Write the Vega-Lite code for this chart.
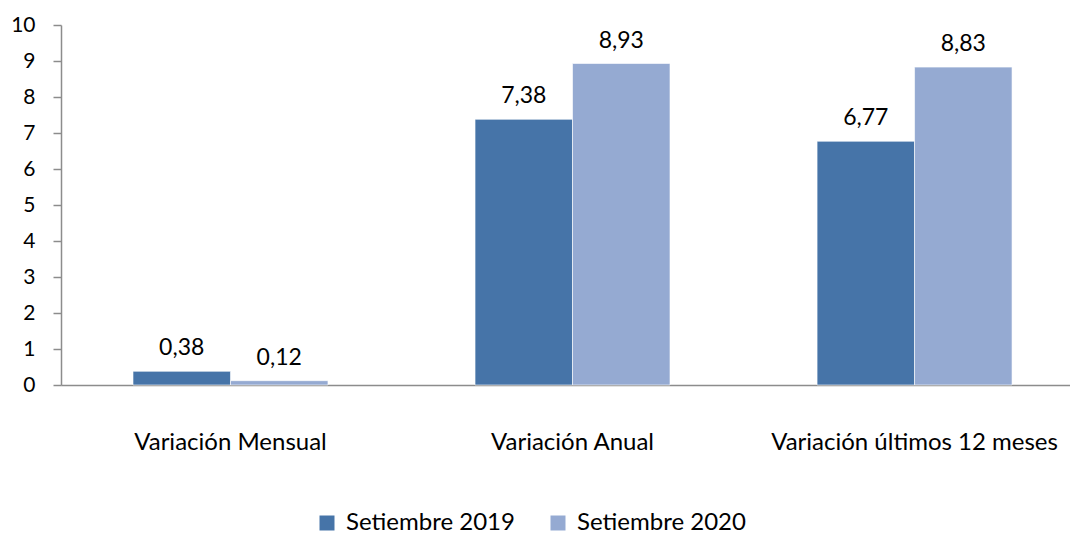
{
  "$schema": "https://vega.github.io/schema/vega-lite/v6.json",
  "width": 1009,
  "height": 360,
  "autosize": "none",
  "padding": {"left": 61, "top": 25, "right": 0, "bottom": 149},
  "background": "white",
  "config": {
    "view": {"stroke": null},
    "locale": {"number": {"decimal": ",", "thousands": ".", "grouping": [3], "currency": ["", " €"]}}
  },
  "data": {
    "values": [
      {"cat": "Variación Mensual", "serie": "Setiembre 2019", "valor": 0.38},
      {"cat": "Variación Mensual", "serie": "Setiembre 2020", "valor": 0.12},
      {"cat": "Variación  Anual", "serie": "Setiembre 2019", "valor": 7.38},
      {"cat": "Variación  Anual", "serie": "Setiembre 2020", "valor": 8.93},
      {"cat": "Variación últimos 12 meses", "serie": "Setiembre 2019", "valor": 6.77},
      {"cat": "Variación últimos 12 meses", "serie": "Setiembre 2020", "valor": 8.83}
    ]
  },
  "encoding": {
    "x": {
      "field": "cat",
      "type": "nominal",
      "sort": ["Variación Mensual", "Variación  Anual", "Variación últimos 12 meses"],
      "scale": {"paddingInner": 0.43, "paddingOuter": 0.19, "align": 0.554},
      "axis": {
        "title": null,
        "labelAngle": 0,
        "ticks": false,
        "domainColor": "#8c8c8c",
        "domainWidth": 1.5,
        "labelFont": "Lato",
        "labelFontSize": 24,
        "labelColor": "#000000",
        "labelPadding": 45,
        "labelLimit": 400
      }
    },
    "xOffset": {"field": "serie", "type": "nominal", "sort": ["Setiembre 2019", "Setiembre 2020"]},
    "y": {
      "field": "valor",
      "type": "quantitative",
      "scale": {"domain": [0, 10], "nice": false},
      "axis": {
        "title": null,
        "values": [0, 1, 2, 3, 4, 5, 6, 7, 8, 9, 10],
        "grid": false,
        "domainColor": "#8c8c8c",
        "domainWidth": 1.5,
        "tickColor": "#8c8c8c",
        "tickWidth": 1.5,
        "tickSize": 8,
        "labelFont": "Lato",
        "labelFontSize": 21,
        "labelColor": "#000000",
        "labelPadding": 18,
        "format": "d"
      }
    }
  },
  "layer": [
    {
      "mark": {"type": "bar", "stroke": "white", "strokeOpacity": 0.6, "strokeWidth": 1},
      "encoding": {
        "color": {
          "field": "serie",
          "type": "nominal",
          "scale": {"domain": ["Setiembre 2019", "Setiembre 2020"], "range": ["#4674a8", "#95aad2"]},
          "legend": {
            "title": null,
            "orient": "none",
            "legendX": 254,
            "legendY": 486,
            "direction": "horizontal",
            "symbolType": "square",
            "symbolSize": 225,
            "symbolStrokeWidth": 0,
            "labelFont": "Lato",
            "labelFontSize": 24,
            "labelColor": "#000000",
            "labelOffset": 7,
            "labelLimit": 400,
            "columnPadding": 31
          }
        }
      }
    },
    {
      "mark": {"type": "text", "dy": -16, "baseline": "alphabetic", "font": "Lato", "fontSize": 23, "color": "#000000"},
      "encoding": {
        "text": {"field": "valor", "type": "quantitative", "format": ".2f"}
      }
    }
  ]
}
